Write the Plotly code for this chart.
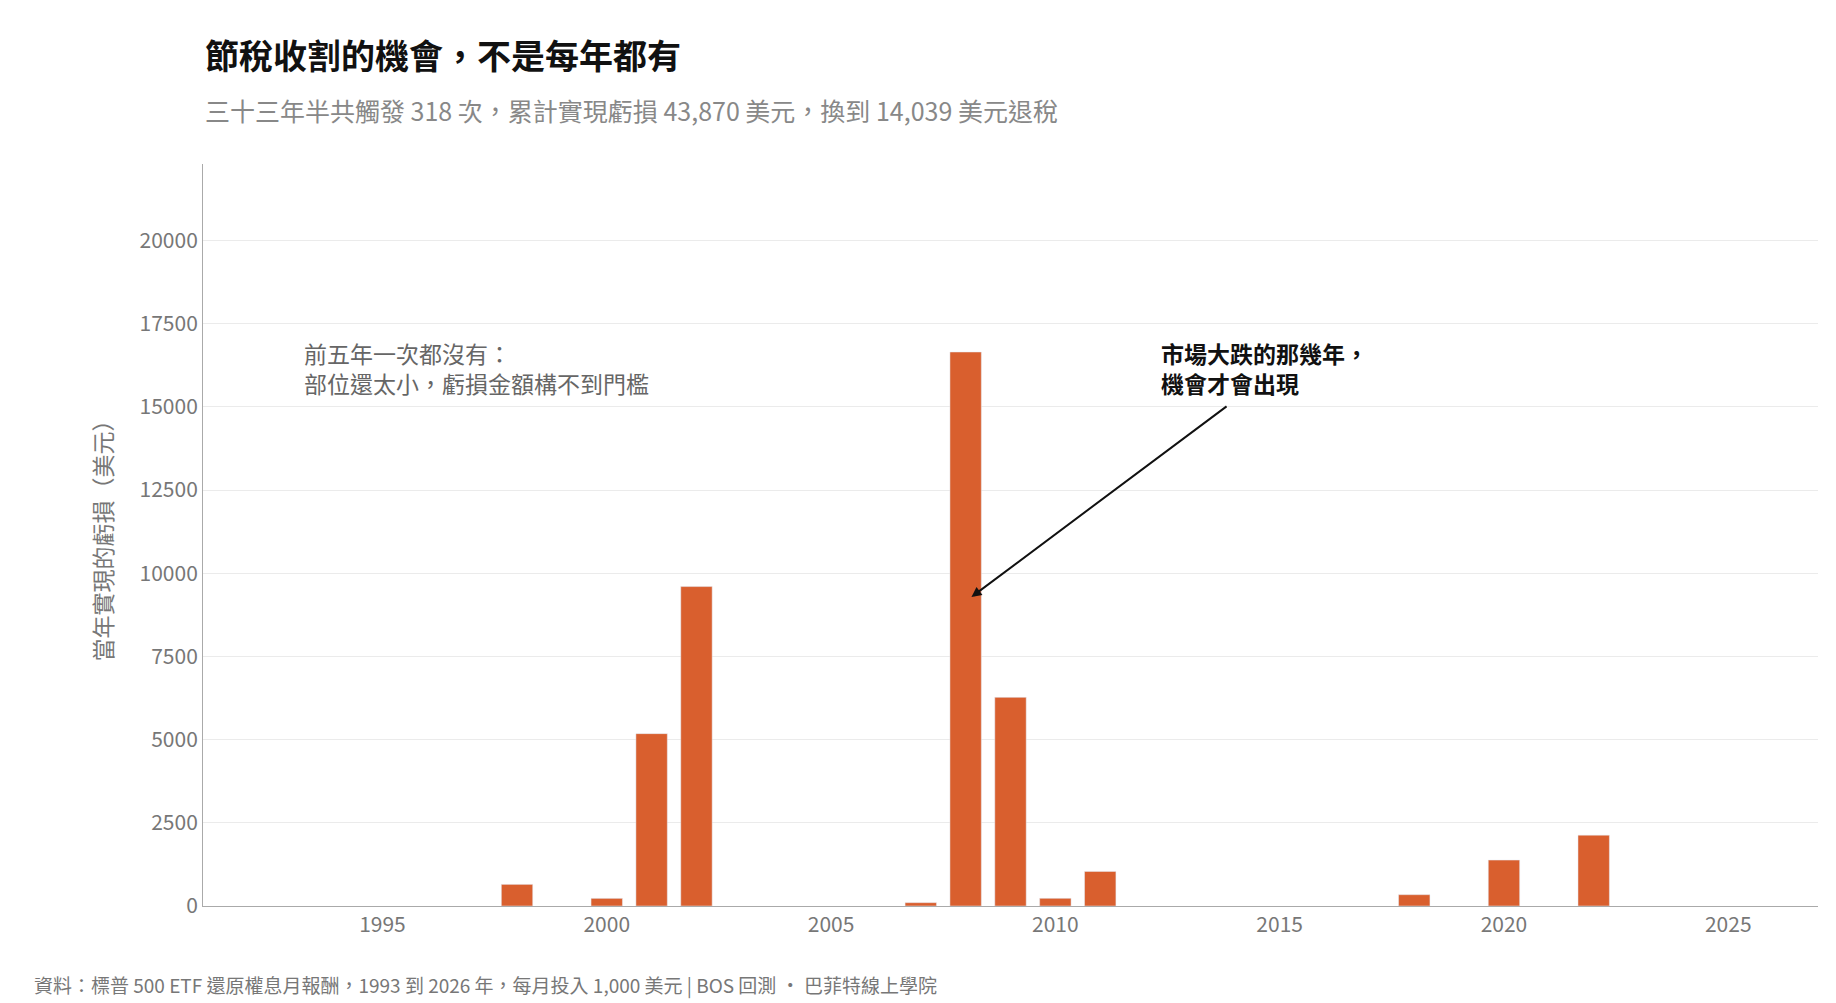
import plotly.graph_objects as go

years = [1998, 2000, 2001, 2002, 2007, 2008, 2009, 2010, 2011, 2018, 2020, 2022]
losses = [650, 230, 5180, 9600, 100, 16650, 6270, 230, 1040, 340, 1380, 2130]
tickvals_y = [0, 2500, 5000, 7500, 10000, 12500, 15000, 17500, 20000]
tickvals_x = [1995, 2000, 2005, 2010, 2015, 2020, 2025]

F = "Noto Sans CJK TC"
fig = go.Figure(go.Bar(x=years, y=losses, marker_color="#D95F2E", width=0.7))
fig.update_layout(
    width=1836, height=1003, plot_bgcolor="white", paper_bgcolor="white",
    margin=dict(l=195, r=26, t=156, b=105), showlegend=False,
    font=dict(family=F, color="#666", size=20),
    xaxis=dict(range=[1991, 2027], tickvals=tickvals_x, showgrid=False, showline=True,
               linecolor="#aaa", ticks="", tickfont=dict(size=21, color="#777")),
    yaxis=dict(range=[0, 22300], tickvals=tickvals_y, tickformat="d", gridcolor="#ebebeb", showline=True,
               linecolor="#aaa", zeroline=False, tickfont=dict(size=21, color="#777"),
               title=dict(text="當年實現的虧損（美元）", font=dict(size=23, color="#777"), standoff=20)),
)
fig.add_annotation(x=0, y=1.147, xref="paper", yref="paper", xanchor="left", yanchor="middle", showarrow=False,
                   text="<b>節稅收割的機會，不是每年都有</b>", font=dict(size=34, color="#111"))
fig.add_annotation(x=0, y=1.073, xref="paper", yref="paper", xanchor="left", yanchor="middle", showarrow=False,
                   text="三十三年半共觸發 318 次，累計實現虧損 43,870 美元，換到 14,039 美元退稅",
                   font=dict(size=25, color="#888"))
fig.add_annotation(x=1993.2, y=17200, xanchor="left", yanchor="top", showarrow=False, align="left",
                   text="前五年一次都沒有：<br>部位還太小，虧損金額構不到門檻", font=dict(size=23, color="#666"))
fig.add_annotation(x=2012.3, y=17200, xanchor="left", yanchor="top", showarrow=False, align="left",
                   text="<b>市場大跌的那幾年，<br>機會才會出現</b>", font=dict(size=23, color="#111"))
fig.add_annotation(x=2008.13, y=9290, ax=2013.85, ay=15050, axref="x", ayref="y", text="",
                   showarrow=True, arrowhead=2, arrowwidth=2, arrowcolor="#111")
fig.add_annotation(x=0, y=-0.106, xref="paper", yref="paper", xshift=-171, xanchor="left", yanchor="middle",
                   showarrow=False, text="資料：標普 500 ETF 還原權息月報酬，1993 到 2026 年，每月投入 1,000 美元 | BOS 回測 · 巴菲特線上學院",
                   font=dict(size=19, color="#777"))
fig.write_html("out.html")
